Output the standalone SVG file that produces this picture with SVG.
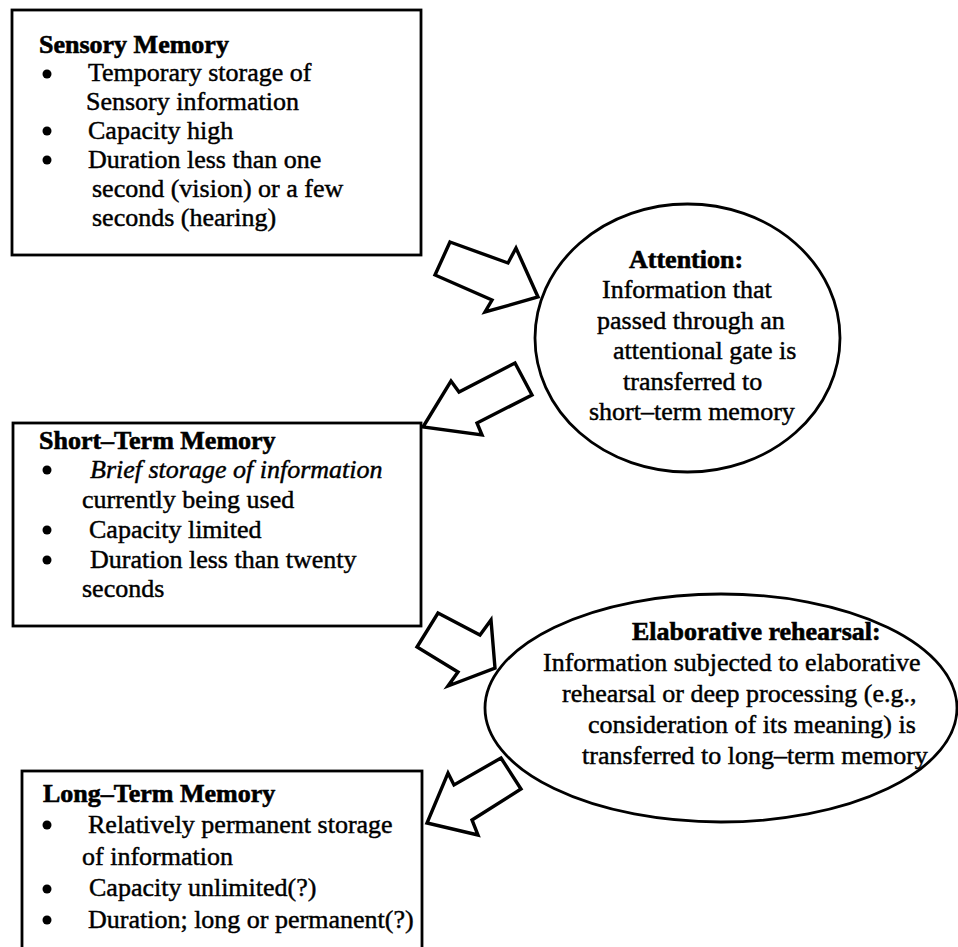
<svg xmlns="http://www.w3.org/2000/svg" width="958" height="947" viewBox="0 0 958 947">
<style>
.bg{fill:#fff}
.box{fill:#fff;stroke:#000;stroke-width:2.8}
.ell{fill:#fff;stroke:#000;stroke-width:2.8}
.arr{fill:#fff;stroke:#000;stroke-width:3.4;stroke-linejoin:miter}
text{font-family:"Liberation Serif","Times New Roman",serif;font-size:26px;fill:#000;stroke:#000;stroke-width:0.45}
.b{font-weight:bold;stroke-width:0.6}
.i{font-style:italic}
.bul{fill:#000}
</style>
<rect class="bg" x="0" y="0" width="958" height="947"/>
<g id="connectors">
<polygon class="arr" points="450,242 508,263 516,248 538,297 485,312 492,300 435,275"/>
<polygon class="arr" points="515,363 532,395 477,423 482,435 423,427 451,381 459,392"/>
<polygon class="arr" points="438,613 480,635 491,620 495,668 448,686 458,672 417,647"/>
<polygon class="arr" points="501,758 521,789 472,820 478,835 427,823 448,773 454,785"/>
</g>
<g id="sensory">
<rect class="box" x="12" y="10" width="409" height="245"/>
<text class="b" x="39" y="53">Sensory Memory</text>
<circle class="bul" cx="47" cy="74" r="4.5"/>
<text x="88" y="81">Temporary storage of</text>
<text x="86" y="110">Sensory information</text>
<circle class="bul" cx="47" cy="131" r="4.5"/>
<text x="88" y="139">Capacity high</text>
<circle class="bul" cx="47" cy="160" r="4.5"/>
<text x="88" y="168">Duration less than one</text>
<text x="92" y="197">second (vision) or a few</text>
<text x="92" y="226">seconds (hearing)</text>
</g>
<g id="attention">
<ellipse class="ell" cx="687.5" cy="338" rx="152.5" ry="134"/>
<text class="b" x="629" y="268">Attention:</text>
<text x="602" y="298">Information that</text>
<text x="597" y="329">passed through an</text>
<text x="613" y="359">attentional gate is</text>
<text x="623" y="390">transferred to</text>
<text x="589" y="420">short–term memory</text>
</g>
<g id="short-term">
<rect class="box" x="13" y="423" width="408" height="203"/>
<text class="b" x="39" y="449">Short–Term Memory</text>
<circle class="bul" cx="47" cy="470" r="4.5"/>
<text class="i" x="90" y="478">Brief storage of information</text>
<text x="82" y="508">currently being used</text>
<circle class="bul" cx="47" cy="530" r="4.5"/>
<text x="89" y="538">Capacity limited</text>
<circle class="bul" cx="47" cy="560" r="4.5"/>
<text x="90" y="568">Duration less than twenty</text>
<text x="82" y="597">seconds</text>
</g>
<g id="elaborative">
<ellipse class="ell" cx="721" cy="708" rx="236" ry="114"/>
<text class="b" x="632" y="640">Elaborative rehearsal:</text>
<text x="543" y="671">Information subjected to elaborative</text>
<text x="562" y="702">rehearsal or deep processing (e.g.,</text>
<text x="588" y="733">consideration of its meaning) is</text>
<text x="582" y="764">transferred to long–term memory</text>
</g>
<g id="long-term">
<rect class="box" x="22" y="771" width="400" height="190"/>
<text class="b" x="43" y="802">Long–Term Memory</text>
<circle class="bul" cx="47" cy="825" r="4.5"/>
<text x="88" y="833">Relatively permanent storage</text>
<text x="82" y="865">of information</text>
<circle class="bul" cx="47" cy="889" r="4.5"/>
<text x="89" y="896">Capacity unlimited(?)</text>
<circle class="bul" cx="47" cy="920" r="4.5"/>
<text x="88" y="928">Duration; long or permanent(?)</text>
</g>
</svg>
